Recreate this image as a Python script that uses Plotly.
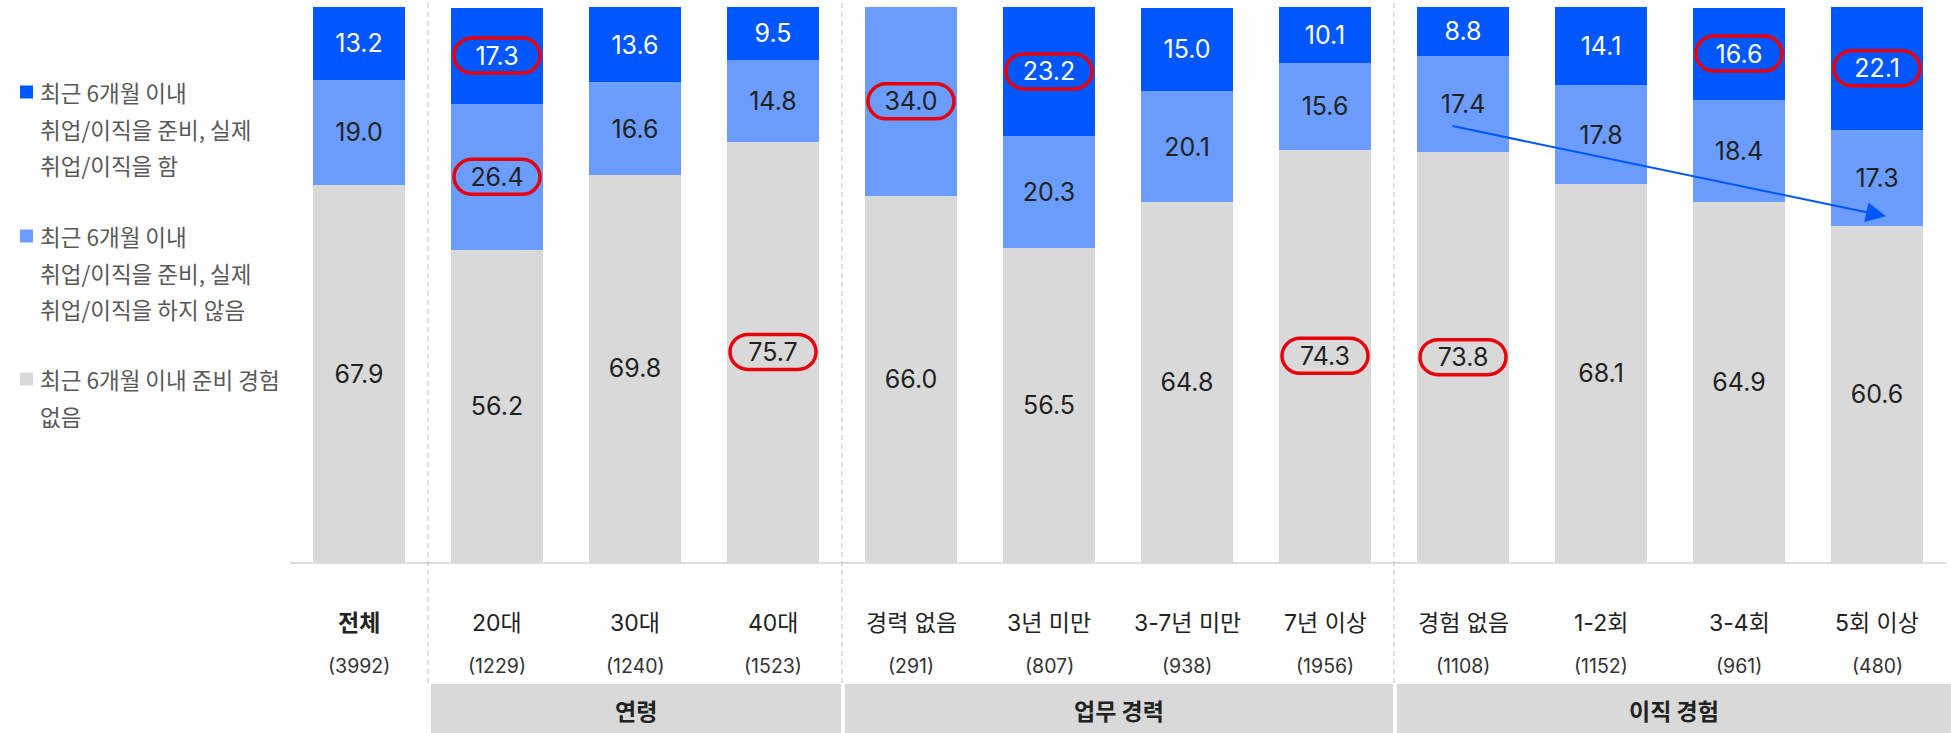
import plotly.graph_objects as go

# ---------------- data ----------------
categories = ["전체", "20대", "30대", "40대", "경력 없음", "3년 미만", "3-7년 미만", "7년 이상",
              "경험 없음", "1-2회", "3-4회", "5회 이상"]
sample_sizes = ["(3992)", "(1229)", "(1240)", "(1523)", "(291)", "(807)", "(938)", "(1956)",
                "(1108)", "(1152)", "(961)", "(480)"]
no_prep = [67.9, 56.2, 69.8, 75.7, 66.0, 56.5, 64.8, 74.3, 73.8, 68.1, 64.9, 60.6]
prep_not_moved = [19.0, 26.4, 16.6, 14.8, 34.0, 20.3, 20.1, 15.6, 17.4, 17.8, 18.4, 17.3]
prep_moved = [13.2, 17.3, 13.6, 9.5, 0.0, 23.2, 15.0, 10.1, 8.8, 14.1, 16.6, 22.1]

series_names = ["최근 6개월 이내 준비 경험 없음",
                "최근 6개월 이내 취업/이직을 준비, 실제 취업/이직을 하지 않음",
                "최근 6개월 이내 취업/이직을 준비, 실제 취업/이직을 함"]
legend_lines = [
    ["최근 6개월 이내", "취업/이직을 준비, 실제", "취업/이직을 함"],
    ["최근 6개월 이내", "취업/이직을 준비, 실제", "취업/이직을 하지 않음"],
    ["최근 6개월 이내 준비 경험", "없음"],
]
group_names = ["연령", "업무 경력", "이직 경험"]
group_bounds = [(0.5, 3.5), (3.5, 7.5), (7.5, 11.5)]
# highlighted labels: (category index, series index 0=no_prep,1=prep_not_moved,2=prep_moved)
highlights = [(1, 2), (1, 1), (3, 0), (4, 1), (5, 2), (7, 0), (8, 0), (10, 2), (11, 2)]

# ---------------- style ----------------
C_DARK = "#0057FF"
C_LIGHT = "#6A9DFF"
C_GRAY = "#D9D9D9"
FONT = "Inter, Noto Sans CJK KR, sans-serif"
KFONT = "Noto Sans CJK KR, sans-serif"

W, H = 1951, 733
ML, MR, MT, MB = 290, 5, 7, 171
PW = W - ML - MR
PH = H - MT - MB
NCAT = len(categories)


def px2x(px):
    return (px - ML) / PW


def py2y(py):
    return (H - MB - py) / PH


def cat2x(c):
    return (c + 0.5) / NCAT


series = [no_prep, prep_not_moved, prep_moved]
colors = [C_GRAY, C_LIGHT, C_DARK]
text_colors = ["#222222", "#222222", "#FFFFFF"]

fig = go.Figure()
for vals, name, col, tcol in zip(series, series_names, colors, text_colors):
    fig.add_trace(go.Bar(
        x=categories, y=vals, name=name,
        marker=dict(color=col, line=dict(width=0)),
        text=[f"{v:.1f}" if v > 0 else "" for v in vals],
        textposition="inside", insidetextanchor="middle", textangle=0,
        textfont=dict(family=FONT, size=25, color=tcol),
        hoverinfo="skip", showlegend=False,
    ))

shapes = []
annotations = []

# dashed separators
for b in [0.5, 3.5, 7.5]:
    shapes.append(dict(type="line", xref="paper", yref="paper",
                       x0=cat2x(b), x1=cat2x(b), y0=py2y(683), y1=py2y(0),
                       line=dict(color="#BDBDBD", width=1, dash="5px,4px")))

# group boxes and labels
for gname, (b0, b1) in zip(group_names, group_bounds):
    x0 = cat2x(b0) + 3 / PW
    x1 = cat2x(b1) - 1 / PW if b1 < NCAT - 0.5 else 1 + MR / PW
    shapes.append(dict(type="rect", xref="paper", yref="paper",
                       x0=x0, x1=x1, y0=py2y(733), y1=py2y(684),
                       fillcolor=C_GRAY, line=dict(width=0), layer="below"))
    annotations.append(dict(xref="paper", yref="paper", x=(x0 + x1) / 2, y=py2y(710),
                            text=f"<b>{gname}</b>", showarrow=False,
                            font=dict(family=KFONT, size=23, color="#222222"),
                            xanchor="center", yanchor="middle"))

# category labels and sample sizes
for i, (cat, n) in enumerate(zip(categories, sample_sizes)):
    label = f"<b>{cat}</b>" if i == 0 else cat
    annotations.append(dict(xref="x", yref="paper", x=cat, y=py2y(623), text=label,
                            showarrow=False, xanchor="center", yanchor="middle",
                            font=dict(family=FONT, size=23, color="#222222")))
    annotations.append(dict(xref="x", yref="paper", x=cat, y=py2y(666), text=n,
                            showarrow=False, xanchor="center", yanchor="middle",
                            font=dict(family=FONT, size=19.5, color="#333333")))

# manual legend
legend_colors = [C_DARK, C_LIGHT, C_GRAY]
legend_top = [92, 236, 379]
line_gap = 36.5
for lines, col, top in zip(legend_lines, legend_colors, legend_top):
    shapes.append(dict(type="rect", xref="paper", yref="paper",
                       x0=px2x(20), x1=px2x(33), y0=py2y(top + 6.5), y1=py2y(top - 6.5),
                       fillcolor=col, line=dict(width=0)))
    for k, ln in enumerate(lines):
        annotations.append(dict(xref="paper", yref="paper", x=px2x(38), y=py2y(top + k * line_gap),
                                text=ln, showarrow=False, xanchor="left", yanchor="middle",
                                font=dict(family=KFONT, size=22.5, color="#595959")))

# red pill outlines around highlighted labels (pixel-sized, anchored on the label centre)
hw, hh, rx = 43, 17.5, 18
s = hw - rx
k = 0.5523
pill = (f"M {-s},{-hh} L {s},{-hh} "
        f"C {s + rx * k},{-hh} {hw},{-hh * k} {hw},0 "
        f"C {hw},{hh * k} {s + rx * k},{hh} {s},{hh} "
        f"L {-s},{hh} "
        f"C {-s - rx * k},{hh} {-hw},{hh * k} {-hw},0 "
        f"C {-hw},{-hh * k} {-s - rx * k},{-hh} {-s},{-hh} Z")
for ci, si in highlights:
    base = sum(series[j][ci] for j in range(si))
    center = base + series[si][ci] / 2
    shapes.append(dict(type="path", xref="x", yref="y",
                       xsizemode="pixel", ysizemode="pixel",
                       xanchor=ci, yanchor=center, path=pill,
                       line=dict(color="#E8000B", width=3.5)))

# trend arrow on the "이직 경험" light segment
start_c = 8
end_c = 11
start_y = no_prep[start_c] + prep_not_moved[start_c] / 2 - 3.9
end_y = no_prep[end_c] + 1.7
annotations.append(dict(xref="x", yref="y", axref="x", ayref="y",
                        x=end_c + 0.065, y=end_y, ax=start_c - 0.087, ay=start_y,
                        text="", showarrow=True, arrowhead=2, arrowsize=2,
                        arrowwidth=2, arrowcolor=C_DARK, standoff=0, startstandoff=0))

fig.update_layout(
    width=W, height=H,
    margin=dict(l=ML, r=MR, t=MT, b=MB, pad=0),
    barmode="stack", bargap=0.333,
    plot_bgcolor="white", paper_bgcolor="white",
    uniformtext=dict(minsize=25, mode="show"),
    showlegend=False,
    shapes=shapes, annotations=annotations,
    xaxis=dict(type="category", categoryarray=categories, showticklabels=False,
               showgrid=False, zeroline=False, showline=True, linecolor="#DDDDDD",
               linewidth=2, ticks="", range=[-0.5, NCAT - 0.5], fixedrange=True),
    yaxis=dict(range=[0, 100], showticklabels=False, showgrid=False, zeroline=False,
               showline=False, fixedrange=True),
)

fig.write_html("out.html", config={"displayModeBar": False},
               post_script="document.body.style.margin='0';document.body.style.overflow='hidden';")
